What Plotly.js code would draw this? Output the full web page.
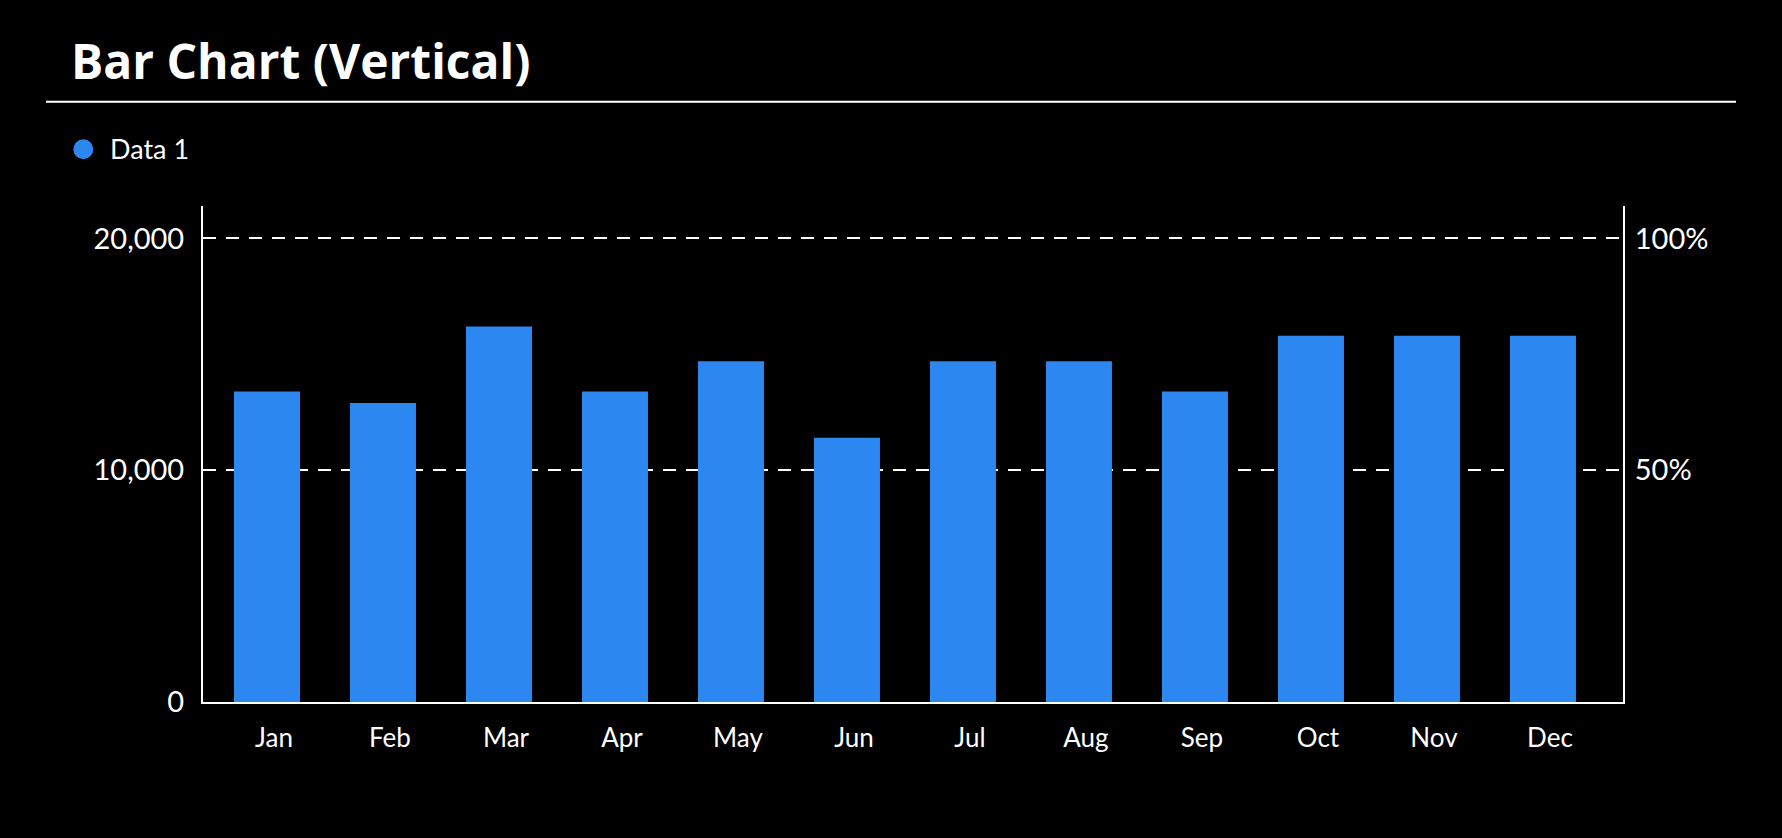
<!DOCTYPE html>
<html>
<head>
<meta charset="utf-8">
<script src="https://cdn.plot.ly/plotly-3.0.1.min.js"></script>
<style>
  html, body { margin: 0; padding: 0; background: #000; }
  #chart { width: 1782px; height: 838px; }
</style>
</head>
<body>
<div id="chart"></div>
<script>
// ---- data ----
const months = ["Jan", "Feb", "Mar", "Apr", "May", "Jun", "Jul", "Aug", "Sep", "Oct", "Nov", "Dec"];
const data1 = [13400, 12900, 16200, 13400, 14700, 11400, 14700, 14700, 13400, 15800, 15800, 15800];
const leftTickVals = [0, 10000, 20000];
const rightTickVals = [50, 100];
const rightTickText = ["50%", "100%"];
const seriesName = "Data 1";
const chartTitle = "Bar Chart (Vertical)";

// ---- layout geometry (pixels) ----
const W = 1782, H = 838;
const M = { l: 203, r: 159, t: 206, b: 136 };
const PW = W - M.l - M.r, PH = H - M.t - M.b;
const px2x = p => (p - M.l) / PW;
const px2y = p => (H - M.b - p) / PH;

const white = "#ffffff";
const barColor = "#2d87f0";
const tickFont = { family: "Lato, 'Open Sans', sans-serif", size: 29, color: white };

const traces = [
  {
    type: "bar",
    x: months,
    y: data1,
    name: seriesName,
    marker: { color: barColor },
    width: 0.569,
    showlegend: false,
    hoverinfo: "x+y"
  },
  { // carrier for the right-hand percentage axis (draws nothing)
    type: "scatter",
    x: [], y: [],
    yaxis: "y2",
    mode: "none",
    showlegend: false,
    hoverinfo: "skip"
  }
];

const layout = {
  width: W, height: H,
  paper_bgcolor: "#000",
  plot_bgcolor: "#000",
  margin: M,
  showlegend: false,
  title: {
    text: chartTitle,
    font: { family: "'Open Sans', Lato, sans-serif", size: 48, color: white, weight: 700 },
    xref: "container", yref: "container",
    x: 71 / W, xanchor: "left",
    y: 1 - 62.5 / H, yanchor: "middle"
  },
  xaxis: {
    type: "category",
    range: [-0.5517, 11.69],
    showline: true, linecolor: white, linewidth: 2,
    showgrid: false, zeroline: false,
    ticks: "",
    tickfont: { family: "Lato, 'Open Sans', sans-serif", size: 26, color: white },
    ticklabelstandoff: 12,
    ticklabelshift: 7,
    fixedrange: true
  },
  yaxis: {
    range: [0, 21400],
    tickvals: leftTickVals,
    tickformat: ",d",
    showline: true, linecolor: white, linewidth: 2,
    showgrid: true, gridcolor: white, gridwidth: 2, griddash: "13px,10px",
    zeroline: false,
    ticks: "",
    tickfont: tickFont,
    ticklabelstandoff: 11,
    fixedrange: true
  },
  yaxis2: {
    overlaying: "y",
    side: "right",
    range: [0, 107],
    tickmode: "array",
    tickvals: rightTickVals,
    ticktext: rightTickText,
    showline: true, linecolor: white, linewidth: 2,
    showgrid: false, zeroline: false,
    ticks: "",
    tickfont: tickFont,
    ticklabelstandoff: 4,
    fixedrange: true
  },
  shapes: [
    { // rule under the title
      type: "line", xref: "paper", yref: "paper",
      x0: px2x(46), x1: px2x(1736), y0: px2y(101.7), y1: px2y(101.7),
      line: { color: white, width: 2 }
    },
    { // legend swatch
      type: "circle", xref: "paper", yref: "paper",
      xsizemode: "pixel", ysizemode: "pixel",
      xanchor: px2x(83.3), yanchor: px2y(149.3),
      x0: -10, x1: 10, y0: -10, y1: 10,
      fillcolor: barColor, line: { width: 0 }
    }
  ],
  annotations: [
    {
      text: seriesName, xref: "paper", yref: "paper",
      x: px2x(108), y: px2y(149), xanchor: "left", yanchor: "middle",
      showarrow: false,
      font: { family: "Lato, 'Open Sans', sans-serif", size: 27, color: white }
    }
  ]
};

Plotly.newPlot("chart", traces, layout, { displayModeBar: false });
</script>
</body>
</html>
